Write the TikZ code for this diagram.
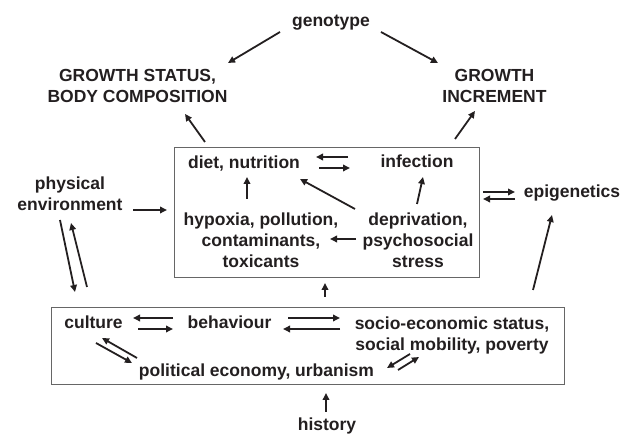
\documentclass[tikz,border=0pt]{standalone}
\usepackage{fontspec}
\setmainfont{Liberation Sans}
\usetikzlibrary{arrows.meta}
\definecolor{ink}{HTML}{231F20}
\definecolor{frame}{HTML}{666666}
\begin{document}
\begin{tikzpicture}[x=1pt,y=-1pt,
  lbl/.style={inner sep=0pt, anchor=base, align=center, text=ink,
    font=\fontsize{17.5}{21}\selectfont\bfseries},
  arr/.style={draw=ink, line width=1.8pt, -{Triangle[length=7pt,width=6.5pt]}},
  panel/.style={draw=frame, line width=0.9pt}]
\useasboundingbox (0,0) rectangle (633,435);
% boxes
\coordinate (inTL) at (174,147); \coordinate (inBR) at (479,277);
\coordinate (loTL) at (51,307);  \coordinate (loBR) at (564,384);
\draw[panel] (inTL) rectangle (inBR);
\draw[panel] (loTL) rectangle (loBR);
% labels (anchor = baseline of the last line)
\node[lbl] (geno) at (331,27) {genotype};
\node[lbl] (gs) at (137.5,103) {GROWTH STATUS,\\BODY COMPOSITION};
\node[lbl] (gi) at (494.5,103) {GROWTH\\INCREMENT};
\node[lbl] (phys) at (70,211) {physical\\environment};
\node[lbl] (epi) at (572,198) {epigenetics};
\node[lbl] (diet) at (244,169) {diet, nutrition};
\node[lbl] (inf) at (417,168) {infection};
\node[lbl] (hyp) at (261,268) {hypoxia, pollution,\\contaminants,\\toxicants};
\node[lbl] (dep) at (418,268) {deprivation,\\psychosocial\\stress};
\node[lbl] (cult) at (93.5,329) {culture};
\node[lbl] (beh) at (229.5,329) {behaviour};
\node[lbl] (ses) at (452,351) {socio-economic status,\\social mobility, poverty};
\node[lbl] (pol) at (256.5,377) {political economy, urbanism};
\node[lbl] (hist) at (327,431) {history};
% arrow end points
\coordinate (a1s) at (280,32);  \coordinate (a1e) at (228,63);
\coordinate (a2s) at (381,32);  \coordinate (a2e) at (438,63);
\coordinate (a3s) at (205,142); \coordinate (a3e) at (185,114);
\coordinate (a4s) at (455,139); \coordinate (a4e) at (475,111);
\coordinate (a5s) at (133,210); \coordinate (a5e) at (167,210);
\coordinate (a6s) at (60,220);  \coordinate (a6e) at (75,292);
\coordinate (a7s) at (87,287);  \coordinate (a7e) at (71,223);
\coordinate (a8s) at (483,192); \coordinate (a8e) at (515,192);
\coordinate (a9s) at (515,199); \coordinate (a9e) at (483,199);
\coordinate (b1s) at (533,290); \coordinate (b1e) at (552,215);
\coordinate (b2s) at (325,297); \coordinate (b2e) at (325,283);
\coordinate (b3s) at (326,412); \coordinate (b3e) at (326,393);
\coordinate (c1s) at (348,157); \coordinate (c1e) at (316,157);
\coordinate (c2s) at (319,168); \coordinate (c2e) at (350,168);
\coordinate (c3s) at (247,199); \coordinate (c3e) at (247,177);
\coordinate (c4s) at (417,204); \coordinate (c4e) at (423,177);
\coordinate (c5s) at (355,209); \coordinate (c5e) at (300,179);
\coordinate (c6s) at (356,239); \coordinate (c6e) at (330,239);
\coordinate (d1s) at (173,318); \coordinate (d1e) at (133,318);
\coordinate (d2s) at (138,329); \coordinate (d2e) at (173,329);
\coordinate (d3s) at (288,318); \coordinate (d3e) at (340,318);
\coordinate (d4s) at (340,329); \coordinate (d4e) at (283,329);
\coordinate (d5s) at (96,343);  \coordinate (d5e) at (132,363);
\coordinate (d6s) at (137,358); \coordinate (d6e) at (102,338);
\coordinate (d7s) at (410,354); \coordinate (d7e) at (387,368);
\coordinate (d8s) at (398,370); \coordinate (d8e) at (419,357);
% arrows
\foreach \p in {a1,a2,a3,a4,a5,a6,a7,a8,a9,b1,b2,b3,c1,c2,c3,c4,c5,c6,d1,d2,d3,d4,d5,d6,d7,d8}
  \draw[arr] (\p s) -- (\p e);
\end{tikzpicture}
\end{document}
